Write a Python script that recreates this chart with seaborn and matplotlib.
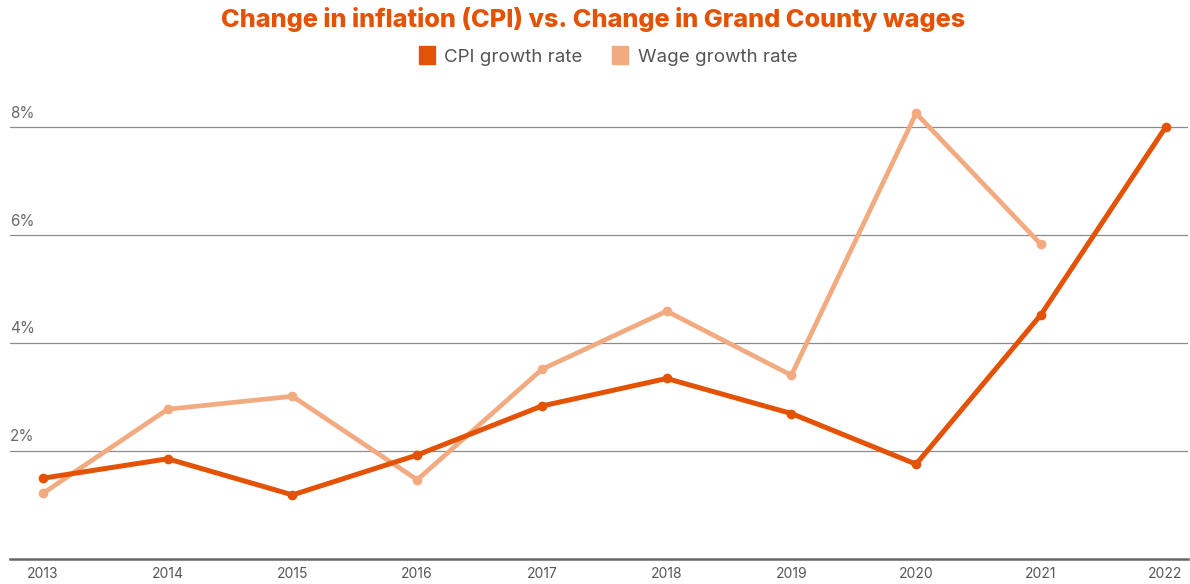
import matplotlib
matplotlib.use("Agg")
import matplotlib.pyplot as plt
import matplotlib.patches as mpatches
import seaborn as sns
import pandas as pd
import numpy as np

years = [2013, 2014, 2015, 2016, 2017, 2018, 2019, 2020, 2021, 2022]
cpi_growth = [1.49, 1.85, 1.18, 1.92, 2.83, 3.34, 2.69, 1.75, 4.52, 8.0]
wage_growth = [1.21, 2.77, 3.01, 1.46, 3.51, 4.59, 3.40, 8.26, 5.83, np.nan]
series_names = ["CPI growth rate", "Wage growth rate"]
y_ticks = [2, 4, 6, 8]
y_tick_labels = ["2%", "4%", "6%", "8%"]
title = "Change in inflation (CPI) vs. Change in Grand County wages"

CPI_COLOR = "#E35205"
WAGE_COLOR = "#F2AB80"

df = pd.DataFrame({
    "year": years * 2,
    "value": cpi_growth + wage_growth,
    "series": [series_names[0]] * len(years) + [series_names[1]] * len(years),
})

sns.set_theme(style="white")
plt.rcParams["font.family"] = ["Inter", "DejaVu Sans"]

fig = plt.figure(figsize=(11.9, 5.84), dpi=100)
ax = fig.add_axes([10 / 1190, (584 - 558.5) / 584, 1178 / 1190, (558.5 - 95) / 584])

# wage drawn first so CPI lies on top
sns.lineplot(data=df[df.series == series_names[1]], x="year", y="value", ax=ax,
             color=WAGE_COLOR, linewidth=3.4, marker="o", markersize=7,
             markeredgewidth=0, legend=False)
sns.lineplot(data=df[df.series == series_names[0]], x="year", y="value", ax=ax,
             color=CPI_COLOR, linewidth=3.6, marker="o", markersize=7,
             markeredgewidth=0, legend=False)

ax.set_xlim(2012.735, 2022.18)
ax.set_ylim(0, 8.6)
ax.set_xticks(years)
ax.set_xticklabels([str(y) for y in years], fontsize=10, color="#555555")
ax.set_yticks(y_ticks)
ax.set_yticklabels([])
ax.tick_params(axis="both", length=0)
ax.tick_params(axis="x", pad=6)
ax.set_xlabel("")
ax.set_ylabel("")
for yv in y_ticks:
    ax.axhline(yv, color="#8c8c8c", linewidth=0.9, zorder=0)
for yv, lab in zip(y_ticks, y_tick_labels):
    ax.text(0.0, yv + 0.12, lab, transform=ax.get_yaxis_transform(),
            ha="left", va="bottom", fontsize=11, color="#6a6a6a")

for s in ["top", "right", "left"]:
    ax.spines[s].set_visible(False)
ax.spines["bottom"].set_color("#666666")
ax.spines["bottom"].set_linewidth(1.8)

fig.text(0.4985, 1 - 19 / 584, title, ha="center", va="center",
         fontsize=18.2, fontweight="heavy", color=CPI_COLOR)

handles = [mpatches.Patch(color=CPI_COLOR, label=series_names[0]),
           mpatches.Patch(color=WAGE_COLOR, label=series_names[1])]
fig.legend(handles=handles, loc="center", bbox_to_anchor=(0.511, 1 - 56 / 584),
           ncol=2, frameon=False, fontsize=13.5, handlelength=0.85,
           handleheight=1.05, handletextpad=0.5, columnspacing=1.6,
           labelcolor="#555555")

fig.savefig("out.png", dpi=100)
